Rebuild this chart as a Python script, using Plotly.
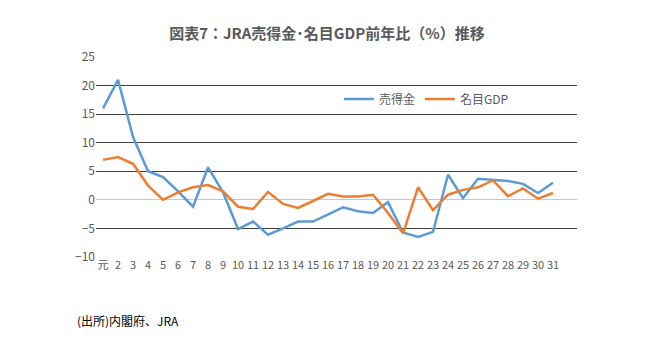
import plotly.graph_objects as go

categories = ["元"] + [str(i) for i in range(2, 32)]
sales = [16.0, 21.0, 11.0, 5.0, 4.0, 1.5, -1.2, 5.7, 1.3, -5.1, -3.8, -6.1, -5.0, -3.8, -3.8, -2.5,
         -1.3, -2.0, -2.3, -0.4, -5.7, -6.5, -5.6, 4.4, 0.3, 3.7, 3.5, 3.3, 2.8, 1.2, 3.0]
gdp = [7.0, 7.5, 6.3, 2.5, 0.0, 1.3, 2.2, 2.6, 1.5, -1.2, -1.6, 1.4, -0.7, -1.4, -0.2, 1.05,
       0.6, 0.6, 0.9, -2.3, -5.85, 2.2, -1.8, 0.9, 1.75, 2.2, 3.4, 0.65, 2.0, 0.2, 1.2]
yticks = [-10, -5, 0, 5, 10, 15, 20, 25]

FONT = "Noto Sans CJK JP, Liberation Sans, sans-serif"
x = list(range(len(categories)))

fig = go.Figure()
fig.add_trace(go.Scatter(x=x, y=sales, mode="lines", name="売得金",
                         line=dict(color="#5B9BD5", width=2.5)))
fig.add_trace(go.Scatter(x=x, y=gdp, mode="lines", name="名目GDP",
                         line=dict(color="#ED7D31", width=2.5)))

fig.update_layout(
    width=649, height=351,
    margin=dict(l=96, r=72, t=57, b=94),
    paper_bgcolor="white", plot_bgcolor="white",
    font=dict(family=FONT, color="#595959", size=11),
    title=dict(text="<b>図表7：JRA売得金･名目GDP前年比（%）推移</b>", x=327 / 649, xref="container",
               xanchor="center", y=1 - 34 / 351, yanchor="middle",
               font=dict(size=15, color="#595959", family=FONT)),
    legend=dict(orientation="h", x=0.505, y=0.79, xanchor="left", yanchor="middle",
                font=dict(size=12, color="#595959"), bgcolor="rgba(0,0,0,0)",
                itemwidth=30, tracegroupgap=0),
    showlegend=True,
)
fig.update_xaxes(range=[-0.47, 31.6], tickmode="array", tickvals=x, ticktext=categories,
                 showgrid=False, zeroline=False, showline=False, ticks="",
                 tickfont=dict(size=11, color="#595959"))
fig.update_yaxes(range=[-10, 25], tickmode="array", tickvals=yticks,
                 showgrid=True, gridcolor="#404040", gridwidth=1,
                 zeroline=True, zerolinecolor="#C8C8C8", zerolinewidth=1,
                 showline=False, ticks="", tickfont=dict(size=12, color="#595959"))
fig.add_annotation(text="(出所)内閣府、JRA", xref="paper", yref="paper",
                   x=-21 / 481, y=-63 / 200, xanchor="left", yanchor="middle",
                   showarrow=False, font=dict(size=12, color="#000000", family=FONT))

fig.write_html("out.html")
